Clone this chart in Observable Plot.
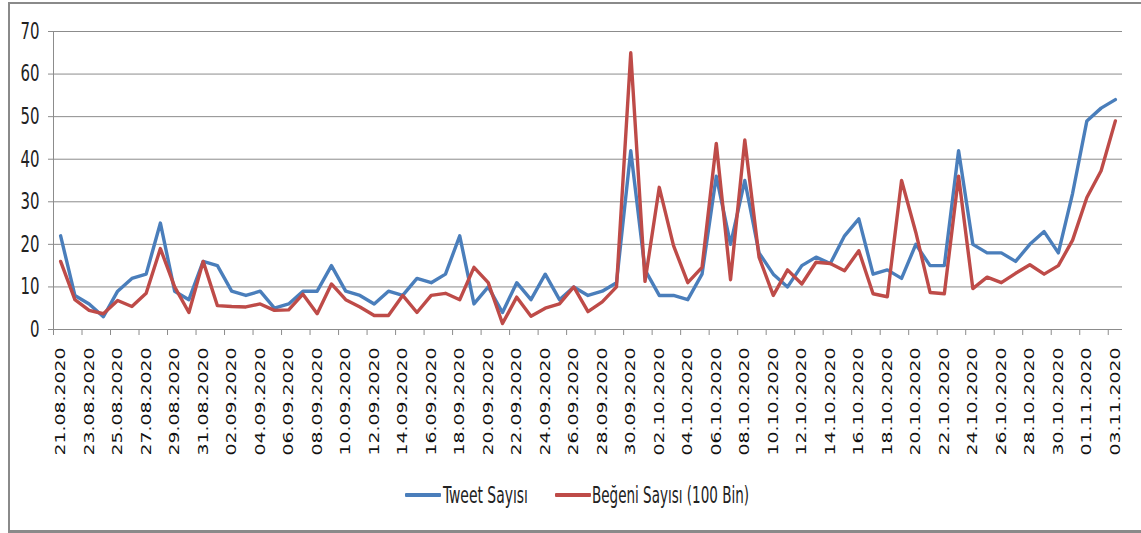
<!DOCTYPE html>
<html>
<head>
<meta charset="utf-8">
<script src="https://cdn.jsdelivr.net/npm/d3@7"></script>
<script src="https://cdn.jsdelivr.net/npm/@observablehq/plot@0.6"></script>
<style>
  html, body { margin: 0; padding: 0; background: #fff; overflow: hidden; }
  #wrap { position: relative; width: 1141px; height: 533px; }
  #frame { position: absolute; left: 8px; top: 2px; width: 1145px; height: 531px;
           border-top: 2px solid #8a8a8a; border-left: 2px solid #8a8a8a; border-bottom: 3px solid #8a8a8a; box-sizing: border-box; }
  #chart { position: absolute; left: 0; top: 0; }
  #legend { position: absolute; top: 481px; left: 0; width: 1141px; height: 28px;
            font-family: "Liberation Sans Narrow", "DejaVu Sans Condensed", "Roboto Condensed", "Liberation Sans", sans-serif;
            font-size: 23px; color: #222; }
  .sw { position: absolute; top: 12px; width: 36px; height: 3.5px; border-radius: 1px; }
  .tx { position: absolute; top: 0; white-space: nowrap; transform-origin: 0 50%; line-height: 28px; }
</style>
</head>
<body>
<div id="wrap">
  <div id="frame"></div>
  <div id="chart"></div>
  <div id="legend"></div>
</div>
<script>
const dates = [
  "21.08.2020","22.08.2020","23.08.2020","24.08.2020","25.08.2020","26.08.2020","27.08.2020","28.08.2020","29.08.2020","30.08.2020","31.08.2020",
  "01.09.2020","02.09.2020","03.09.2020","04.09.2020","05.09.2020","06.09.2020","07.09.2020","08.09.2020","09.09.2020","10.09.2020",
  "11.09.2020","12.09.2020","13.09.2020","14.09.2020","15.09.2020","16.09.2020","17.09.2020","18.09.2020","19.09.2020","20.09.2020",
  "21.09.2020","22.09.2020","23.09.2020","24.09.2020","25.09.2020","26.09.2020","27.09.2020","28.09.2020","29.09.2020","30.09.2020",
  "01.10.2020","02.10.2020","03.10.2020","04.10.2020","05.10.2020","06.10.2020","07.10.2020","08.10.2020","09.10.2020","10.10.2020",
  "11.10.2020","12.10.2020","13.10.2020","14.10.2020","15.10.2020","16.10.2020","17.10.2020","18.10.2020","19.10.2020","20.10.2020",
  "21.10.2020","22.10.2020","23.10.2020","24.10.2020","25.10.2020","26.10.2020","27.10.2020","28.10.2020","29.10.2020","30.10.2020",
  "31.10.2020","01.11.2020","02.11.2020","03.11.2020"
];
const tweet = [
  22, 8, 6, 3, 9, 12, 13, 25, 9, 7,
  16, 15, 9, 8, 9, 5, 6, 9, 9, 15,
  9, 8, 6, 9, 8, 12, 11, 13, 22, 6,
  10, 4, 11, 7, 13, 7, 10, 8, 9, 11,
  42, 14, 8, 8, 7, 13, 36, 20, 35, 18,
  13, 10, 15, 17, 15.5, 22, 26, 13, 14, 12,
  20, 15, 15, 42, 20, 18, 18, 16, 20, 23,
  18, 32, 49, 52, 54
];
const like = [
  16, 7, 4.5, 3.7, 6.8, 5.4, 8.5, 19, 10, 4,
  16, 5.6, 5.4, 5.3, 6, 4.5, 4.6, 8.3, 3.7, 10.7,
  7, 5.3, 3.3, 3.3, 8, 4, 8, 8.5, 7, 14.6,
  11, 1.4, 7.6, 3.1, 5, 6, 10, 4.2, 6.5, 10,
  65, 11.3, 33.4, 19.7, 11, 14.6, 43.7, 11.7, 44.5, 17,
  8, 14, 10.7, 15.8, 15.5, 13.8, 18.5, 8.4, 7.7, 35,
  22.8, 8.7, 8.4, 36, 9.6, 12.3, 11, 13.2, 15.2, 13,
  15, 21, 31, 37.3, 49
];
const yTicks = [0, 10, 20, 30, 40, 50, 60, 70];
const seriesNames = ["Tweet Sayısı", "Beğeni Sayısı (100 Bin)"];
const colors = ["#4A7EBB", "#BE4B48"];

const rows = dates.map((d, i) => ({date: d, tweet: tweet[i], like: like[i]}));
const labelled = dates.filter((d, i) => i % 2 === 0);

const W = 1141, H = 470, ML = 53, MR = 19, MT = 31, MB = 141;
const step = (W - ML - MR) / dates.length;
const narrow = '"Liberation Sans Narrow", "DejaVu Sans Condensed", "Roboto Condensed", "Liberation Sans", sans-serif';

const chart = Plot.plot({
  width: W, height: H,
  marginLeft: ML, marginRight: MR, marginTop: MT, marginBottom: MB,
  style: {background: "transparent", color: "#222", fontFamily: "Liberation Sans, Arial, sans-serif"},
  x: {type: "point", domain: dates, padding: 0.5, round: false, label: null},
  y: {domain: [0, 70], label: null},
  marks: [
    Plot.gridY(yTicks, {stroke: "#8c8c8c", strokeOpacity: 1, strokeWidth: 1}),
    Plot.ruleX([dates[0]], {y1: 0, y2: 70, dx: -step / 2, stroke: "#8c8c8c", strokeWidth: 1}),
    Plot.axisY(yTicks, {tickSize: 5, tickPadding: 9, stroke: "#8c8c8c", fontSize: 23, fontFamily: narrow, fill: "#222", label: null}),
    Plot.axisX(labelled, {tickSize: 6, dx: -step / 2, tickFormat: () => "", stroke: "#8c8c8c", label: null}),
    Plot.axisX(labelled, {tickSize: 0, tickPadding: 18, tickRotate: -90, fontSize: 14, fontFamily: "DejaVu Sans, Verdana, sans-serif", fill: "#111", label: null}),
    Plot.lineY(rows, {x: "date", y: "tweet", stroke: colors[0], strokeWidth: 3.4, strokeLinejoin: "round"}),
    Plot.lineY(rows, {x: "date", y: "like", stroke: colors[1], strokeWidth: 3.4, strokeLinejoin: "round"})
  ]
});
document.getElementById("chart").appendChild(chart);

// stretch / squeeze tick labels to the proportions seen in the reference
chart.querySelectorAll("text").forEach(t => {
  const s = t.textContent.trim();
  if (/^\d\d\.\d\d\.\d{4}$/.test(s)) {
    t.setAttribute("textLength", 108);
    t.setAttribute("lengthAdjust", "spacingAndGlyphs");
  } else if (/^\d{1,2}$/.test(s)) {
    t.setAttribute("textLength", 9.5 * s.length);
    t.setAttribute("lengthAdjust", "spacingAndGlyphs");
  }
});

const legend = document.getElementById("legend");
const swatchX = [405, 555];
const textX = [443, 592];
const textW = [85, 157];
seriesNames.forEach((name, i) => {
  const sw = document.createElement("div");
  sw.className = "sw";
  sw.style.left = swatchX[i] + "px";
  sw.style.background = colors[i];
  legend.appendChild(sw);
  const tx = document.createElement("span");
  tx.className = "tx";
  tx.textContent = name;
  tx.style.left = textX[i] + "px";
  legend.appendChild(tx);
  const w = tx.getBoundingClientRect().width;
  if (w > 0) tx.style.transform = `scaleX(${textW[i] / w})`;
});
</script>
</body>
</html>
